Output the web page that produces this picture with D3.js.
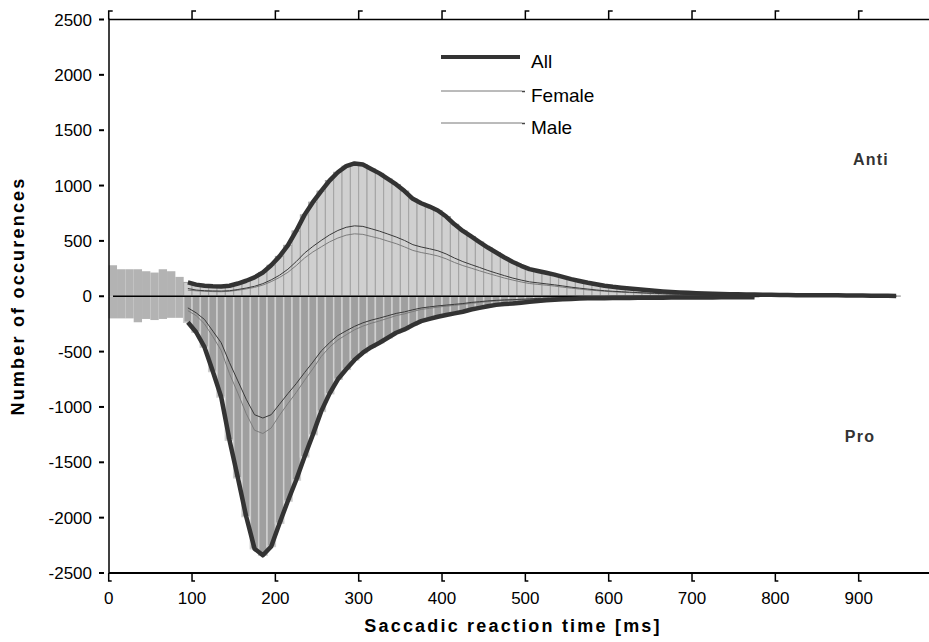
<!DOCTYPE html>
<html>
<head>
<meta charset="utf-8">
<script src="https://cdn.jsdelivr.net/npm/d3@7"></script>
<style>
  html, body { margin: 0; padding: 0; background: #fff; }
  svg { display: block; font-family: "Liberation Sans", Arial, sans-serif; }
</style>
</head>
<body>
<div id="chart"></div>
<script>
// histogram bins are 10 ms wide; values are counts per bin
var BIN = 10;

// unfiltered region 0-90 ms (plain grey bars)
var preStarts = [0, 10, 20, 30, 40, 50, 60, 70, 80];
var preAnti   = [280, 244, 244, 244, 226, 214, 244, 226, 175];
var prePro    = [-200, -200, -200, -235, -205, -215, -205, -195, -195];

// anti saccades, bins from 90 ms to 940 ms
var antiStart = 90;
var antiAll = [125, 105, 95, 90, 88, 95, 115, 140, 170, 215,
  280, 360, 460, 590, 735, 850, 950, 1045, 1120, 1175,
  1200, 1190, 1150, 1110, 1060, 1010, 950, 880, 840, 810,
  775, 720, 650, 590, 540, 490, 440, 395, 350, 310,
  275, 245, 228, 212, 195, 175, 155, 138, 122, 108,
  95, 85, 77, 70, 63, 56, 50, 44, 39, 35,
  31, 28, 25, 23, 21, 19, 17, 16, 15, 14,
  13, 12, 11, 10, 9, 9, 8, 8, 9, 7,
  6, 6, 5, 5, 4, 3];
var antiFemale = [70, 56, 50, 48, 47, 50, 61, 74, 90, 114,
  148, 190, 244, 313, 390, 450, 504, 554, 594, 623,
  636, 631, 610, 588, 562, 535, 504, 466, 445, 429,
  411, 382, 345, 313, 286, 260, 233, 209, 186, 164,
  146, 130, 121, 112, 103, 93, 82, 73, 65, 57,
  50, 45, 41, 37, 33, 30, 27, 23, 21, 19,
  16, 15, 13, 12, 11, 10, 9, 8, 8, 7,
  7, 6, 6, 5, 5, 5, 4, 4, 5, 4,
  3, 3, 3, 3, 2, 2];
var antiMale = [55, 49, 45, 42, 41, 45, 54, 66, 80, 101,
  132, 170, 216, 277, 345, 400, 446, 491, 526, 552,
  564, 559, 540, 522, 498, 475, 446, 414, 395, 381,
  364, 338, 305, 277, 254, 230, 207, 186, 164, 146,
  129, 115, 107, 100, 92, 82, 73, 65, 57, 51,
  45, 40, 36, 33, 30, 26, 23, 21, 18, 16,
  15, 13, 12, 11, 10, 9, 8, 8, 7, 7,
  6, 6, 5, 5, 4, 4, 4, 4, 4, 3,
  3, 3, 2, 2, 2, 1];

// pro saccades, bins from 90 ms to 770 ms
var proStart = 90;
var proAll = [-235, -325, -460, -680, -910, -1300, -1640, -1990, -2280, -2340,
  -2260, -2050, -1850, -1660, -1450, -1250, -1040, -880, -750, -660,
  -575, -510, -460, -420, -375, -330, -300, -260, -225, -205,
  -185, -170, -155, -140, -120, -105, -90, -78, -70, -65,
  -58, -50, -42, -36, -32, -28, -24, -21, -19, -18,
  -17, -16, -15, -15, -14, -14, -13, -13, -12, -12,
  -12, -11, -11, -11, -10, -10, -10, -9, -9];
var proFemale = [-105, -150, -210, -315, -420, -600, -765, -930, -1070, -1100,
  -1070, -975, -880, -790, -690, -595, -495, -420, -355, -312,
  -272, -240, -216, -197, -176, -155, -141, -122, -106, -96,
  -87, -80, -73, -66, -56, -49, -42, -37, -33, -31,
  -27, -24, -20, -17, -15, -13, -11, -10, -9, -8,
  -8, -8, -7, -7, -7, -7, -6, -6, -6, -6,
  -6, -5, -5, -5, -5, -5, -5, -4, -4];
var proMale = [-130, -175, -250, -365, -490, -700, -875, -1060, -1210, -1240,
  -1190, -1075, -970, -870, -760, -655, -545, -460, -395, -348,
  -303, -270, -244, -223, -199, -175, -159, -138, -119, -109,
  -98, -90, -82, -74, -64, -56, -48, -41, -37, -34,
  -31, -26, -22, -19, -17, -15, -13, -11, -10, -10,
  -9, -8, -8, -8, -7, -7, -7, -7, -6, -6,
  -6, -6, -6, -6, -5, -5, -5, -5, -5];

var xTicks = [0, 100, 200, 300, 400, 500, 600, 700, 800, 900];
var yTicks = [-2500, -2000, -1500, -1000, -500, 0, 500, 1000, 1500, 2000, 2500];
var legendLabels = ['All', 'Female', 'Male'];

(function () {
  var W = 929, H = 642;
  var LEFT = 109, TOP = 19.5, BOTTOM = 573, RIGHT = 929;

  var svg = d3.select('#chart').append('svg')
    .attr('width', W).attr('height', H);

  var x = d3.scaleLinear().domain([0, 1000]).range([108.7, 942]);
  var y = d3.scaleLinear().domain([-2500, 2500]).range([BOTTOM, TOP]);

  function toBins(start, vals) {
    return vals.map(function (v, i) { return { t: start + i * BIN, v: v }; });
  }

  var antiBins = toBins(antiStart, antiAll);
  var proBins  = toBins(proStart, proAll);
  var preA = preStarts.map(function (t, i) { return { t: t, v: preAnti[i] }; });
  var preP = preStarts.map(function (t, i) { return { t: t, v: prePro[i] }; });

  function bars(data, fill, stroke, sw) {
    svg.append('g')
      .selectAll('rect')
      .data(data)
      .join('rect')
      .attr('x', function (d) { return x(d.t); })
      .attr('width', function (d) { return x(d.t + BIN) - x(d.t); })
      .attr('y', function (d) { return y(Math.max(0, d.v)); })
      .attr('height', function (d) { return Math.abs(y(d.v) - y(0)); })
      .attr('fill', fill)
      .attr('stroke', stroke)
      .attr('stroke-width', sw);
  }

  bars(preA.concat(preP), '#b3b3b3', 'none', 0);
  bars(antiBins, '#d0d0d0', '#a2a2a2', 1);
  bars(proBins, '#9f9f9f', '#cfcfcf', 1.5);

  // zero line
  svg.append('line')
    .attr('x1', 113).attr('x2', x(945))
    .attr('y1', y(0)).attr('y2', y(0))
    .attr('stroke', '#000').attr('stroke-width', 1.5);

  var line = d3.line()
    .x(function (d) { return x(d.t + BIN / 2); })
    .y(function (d) { return y(d.v); });

  function series(start, vals, color, width) {
    svg.append('path')
      .datum(toBins(start, vals))
      .attr('d', line)
      .attr('fill', 'none')
      .attr('stroke', color)
      .attr('stroke-width', width)
      .attr('stroke-linejoin', 'round');
  }

  series(antiStart, antiMale, '#7c7c7c', 1);
  series(antiStart, antiFemale, '#3a3a3a', 1);
  series(proStart, proMale, '#7c7c7c', 1);
  series(proStart, proFemale, '#3a3a3a', 1);
  series(antiStart, antiAll, '#333', 4.5);
  series(proStart, proAll, '#333', 4.5);

  // frame
  var frame = svg.append('g').attr('stroke', '#000').attr('fill', 'none');
  frame.append('line').attr('x1', LEFT).attr('x2', LEFT).attr('y1', TOP - 1).attr('y2', BOTTOM + 1).attr('stroke-width', 1.5);
  frame.append('line').attr('x1', LEFT).attr('x2', RIGHT).attr('y1', TOP).attr('y2', TOP).attr('stroke-width', 1.5);
  frame.append('line').attr('x1', LEFT).attr('x2', RIGHT).attr('y1', BOTTOM).attr('y2', BOTTOM).attr('stroke-width', 2);

  frame.selectAll('.tt').data(xTicks).join('path')
    .attr('d', function (d) { return 'M' + x(d) + ',' + TOP + 'V11H' + (x(d) + 4); })
    .attr('stroke-width', 1.5);
  frame.selectAll('.bt').data(xTicks).join('path')
    .attr('class', 'bt')
    .attr('d', function (d) { return 'M' + x(d) + ',' + BOTTOM + 'V581H' + (x(d) + 3); })
    .attr('stroke-width', 1.5);
  frame.selectAll('.yt').data(yTicks).join('line')
    .attr('class', 'yt')
    .attr('x1', 99).attr('x2', 104)
    .attr('y1', function (d) { return y(d); })
    .attr('y2', function (d) { return y(d); })
    .attr('stroke-width', 2);

  svg.append('g').selectAll('text').data(yTicks).join('text')
    .attr('x', 92).attr('y', function (d) { return y(d); })
    .attr('dy', '0.36em')
    .attr('text-anchor', 'end')
    .attr('font-size', 17)
    .text(function (d) { return d; });

  svg.append('g').selectAll('text').data(xTicks).join('text')
    .attr('x', function (d) { return x(d); }).attr('y', 604)
    .attr('text-anchor', 'middle')
    .attr('font-size', 17)
    .text(function (d) { return d; });

  svg.append('text')
    .attr('x', 513).attr('y', 632)
    .attr('text-anchor', 'middle')
    .attr('font-size', 18).attr('font-weight', 'bold')
    .attr('letter-spacing', 2.2)
    .text('Saccadic reaction time [ms]');

  svg.append('text')
    .attr('transform', 'translate(24,296) rotate(-90)')
    .attr('text-anchor', 'middle')
    .attr('font-size', 18).attr('font-weight', 'bold')
    .attr('letter-spacing', 2.2)
    .text('Number of occurences');

  svg.append('text')
    .attr('x', 871).attr('y', 165)
    .attr('text-anchor', 'middle')
    .attr('font-size', 16).attr('font-weight', 'bold')
    .attr('letter-spacing', 1.2).attr('fill', '#333')
    .text('Anti');
  svg.append('text')
    .attr('x', 860).attr('y', 442)
    .attr('text-anchor', 'middle')
    .attr('font-size', 16).attr('font-weight', 'bold')
    .attr('letter-spacing', 1.2).attr('fill', '#333')
    .text('Pro');

  // legend
  var legY = [57, 91, 123];
  var legW = [4, 1, 1];
  var legC = ['#333', '#777', '#777'];
  var leg = svg.append('g');
  legendLabels.forEach(function (name, i) {
    leg.append('line')
      .attr('x1', 441).attr('x2', i === 0 ? 520 : 522)
      .attr('y1', legY[i]).attr('y2', legY[i])
      .attr('stroke', legC[i]).attr('stroke-width', legW[i]);
    if (i > 0) {
      leg.append('line')
        .attr('x1', 522).attr('x2', 525)
        .attr('y1', legY[i] + 0.5).attr('y2', legY[i] + 0.5)
        .attr('stroke', '#444').attr('stroke-width', 1.5);
    }
    leg.append('text')
      .attr('x', 531).attr('y', legY[i] + 10.5)
      .attr('font-size', 19)
      .text(name);
  });
})();
</script>
</body>
</html>
